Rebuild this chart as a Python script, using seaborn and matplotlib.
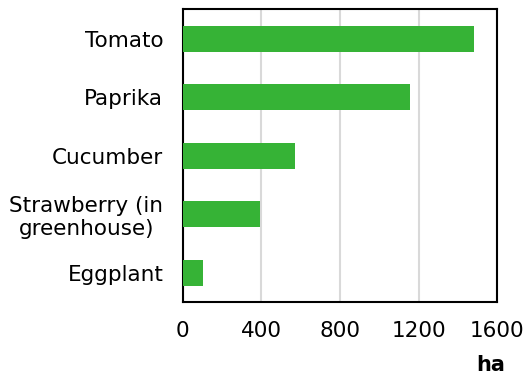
import matplotlib
matplotlib.use("Agg")
import matplotlib.pyplot as plt
import seaborn as sns
import pandas as pd

categories = ["Tomato", "Paprika", "Cucumber", "Strawberry (in\ngreenhouse)", "Eggplant"]
values = [1480, 1155, 570, 395, 105]
xticks = [0, 400, 800, 1200, 1600]

df = pd.DataFrame({"crop": categories, "ha": values})

sns.set_style("white")
plt.rcParams['font.family'] = ['DejaVu Sans']
plt.rcParams['text.color'] = 'black'
plt.rcParams['xtick.color'] = 'black'
plt.rcParams['ytick.color'] = 'black'

fig = plt.figure(figsize=(5.25, 3.78), dpi=100)
ax = fig.add_axes([0.348, 0.201, 0.599, 0.774])

sns.barplot(data=df, x="ha", y="crop", color="#36b336", saturation=1,
            width=0.44, ax=ax, zorder=3, linewidth=0)

ax.set_xlim(0, 1600)
ax.set_ylim(4.5, -0.5)
ax.set_xticks(xticks)
ax.set_xticklabels([str(t) for t in xticks], fontsize=15.5)
ax.tick_params(axis='y', labelsize=15.5, length=0, pad=14, labelcolor='black')
ax.tick_params(axis='x', length=0, pad=14, labelcolor='black')
ax.grid(axis='x', color='#d9d9d9', linewidth=1.5, zorder=0)
ax.set_axisbelow(True)
for s in ax.spines.values():
    s.set_visible(True)
    s.set_color('black')
    s.set_linewidth(1.5)
ax.set_xlabel("")
ax.set_ylabel("")
for lbl in ax.get_yticklabels():
    lbl.set_multialignment('center')

fig.text(0.935, 0.035, "ha", fontsize=15, fontweight='bold', ha='center', va='center', color='black')

fig.savefig("out.png", dpi=100)
